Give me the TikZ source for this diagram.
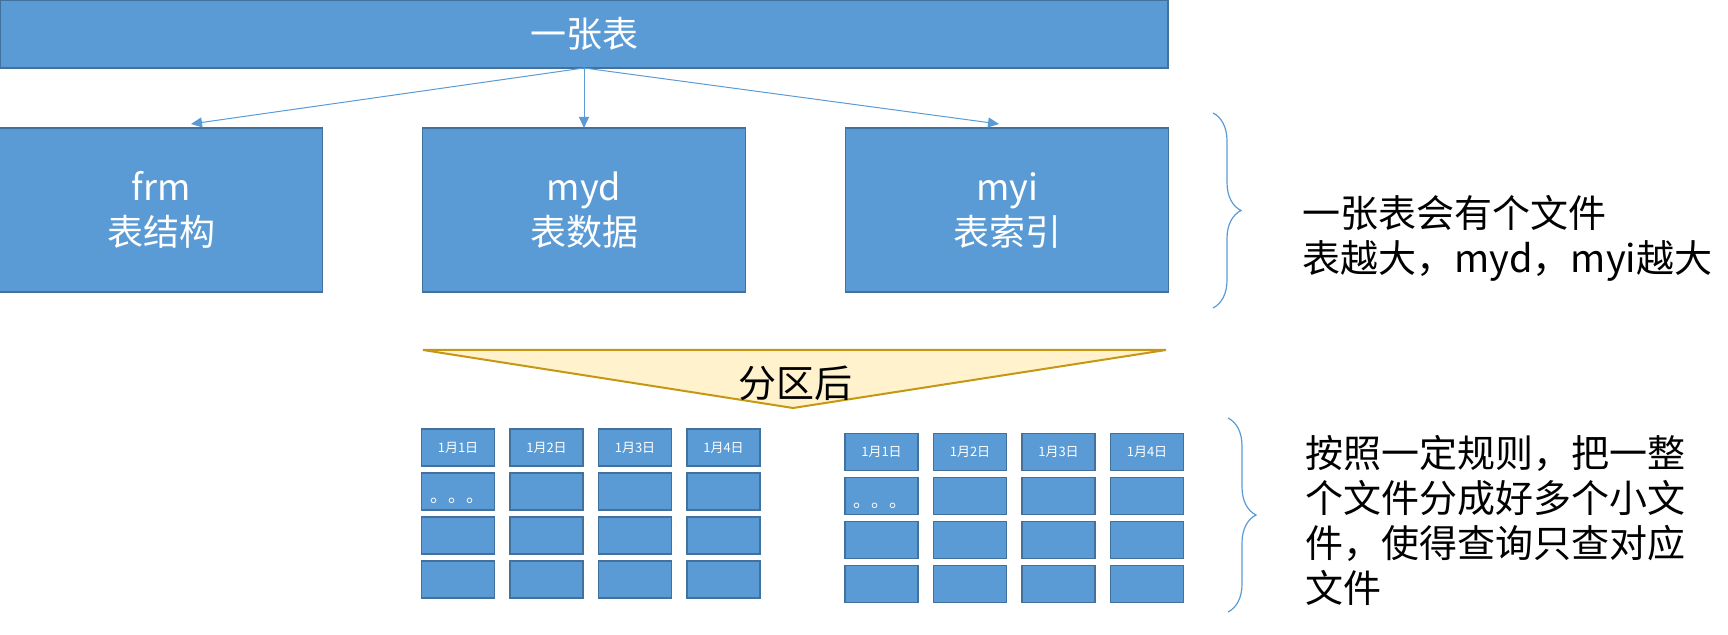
\documentclass[tikz,border=0pt]{standalone}
\usepackage{fontspec}
\setmainfont{Noto Sans CJK SC}
\usetikzlibrary{arrows.meta, positioning, decorations.pathreplacing}
\definecolor{boxblue}{RGB}{91, 155, 213}
\definecolor{boxedge}{RGB}{65, 113, 156}
\definecolor{wedgefill}{RGB}{255, 242, 204}
\definecolor{wedgeedge}{RGB}{196, 152, 20}

\begin{document}
\begin{tikzpicture}[x=0.5pt, y=-0.5pt,
    bigblock/.style={rectangle, draw=boxedge, fill=boxblue, line width=0.8pt, text=white, align=center, inner sep=0pt, outer sep=0pt, font=\fontsize{18}{22.5}\selectfont},
    tablebox/.style={bigblock, minimum width=584pt, minimum height=34pt},
    filebox/.style={bigblock, minimum width=161.5pt, minimum height=82pt},
    cell/.style={rectangle, draw=boxedge, fill=boxblue, line width=0.7pt, minimum width=36.5pt, minimum height=18.5pt, inner sep=0pt, text=white, font=\fontsize{6.5}{7}\selectfont},
    dots/.style={anchor=base west, inner sep=0pt, text=white, font=\fontsize{9}{9}\selectfont},
    wedge/.style={draw=wedgeedge, fill=wedgefill, line width=1pt, line join=miter},
    line/.style={draw=boxblue, -{Triangle[length=5.5pt, width=5pt]}, line width=0.5pt},
    bracket/.style={draw=boxblue, line width=0.6pt, decorate, decoration={brace, amplitude=14pt}},
    note/.style={anchor=north west, align=left, inner sep=0pt, font=\fontsize{19}{22.5}\selectfont}]

    \useasboundingbox (0,0) rectangle (1728,635);

    % one table and its three files
    \node [tablebox] (table) at (584,34) {一张表};
    \node [filebox, below=30pt of table] (myd) {myd\\表数据};
    \node [filebox, left=50pt of myd] (frm) {frm\\表结构};
    \node [filebox, right=50pt of myd] (myi) {myi\\表索引};

    \path [line] (table.south) -- ([xshift=15pt, yshift=2pt]frm.north);
    \path [line] (table.south) -- (myd.north);
    \path [line] (table.south) -- ([xshift=-4pt, yshift=2pt]myi.north);

    \draw [bracket] (1213,113) -- (1213,308);
    \node [note] (note1) at (1302,195) {一张表会有个文件\\表越大，myd，myi越大};

    % partition wedge
    \coordinate (wl) at (423,350);
    \coordinate (wr) at (1166,350);
    \coordinate (wtip) at (793,408);
    \draw [wedge] (wl) -- (wr) -- (wtip) -- cycle;
    \node [font=\fontsize{19}{19}\selectfont, inner sep=0pt] (split) at (795,383) {分区后};

    % two sets of partition files
    \foreach \g/\ox/\oy in {l/458/447.5, r/881.5/452} {
      \foreach \cl in {1,...,4} {
        \node [cell] (\g-\cl-1) at (\ox+88.5*\cl-88.5, \oy) {1月\cl 日};
        \foreach \rw in {2,3,4}
          \node [cell] (\g-\cl-\rw) at (\ox+88.5*\cl-88.5, \oy+44*\rw-44) {};
      }
      \node [dots] (\g-dots) at ([xshift=4.5pt, yshift=4pt]\g-1-2.south west) {。。。};
    }

    \draw [bracket] (1228,418) -- (1228,612);
    \node [note] (note2) at (1305,435) {按照一定规则，把一整\\个文件分成好多个小文\\件，使得查询只查对应\\文件};
\end{tikzpicture}
\end{document}
